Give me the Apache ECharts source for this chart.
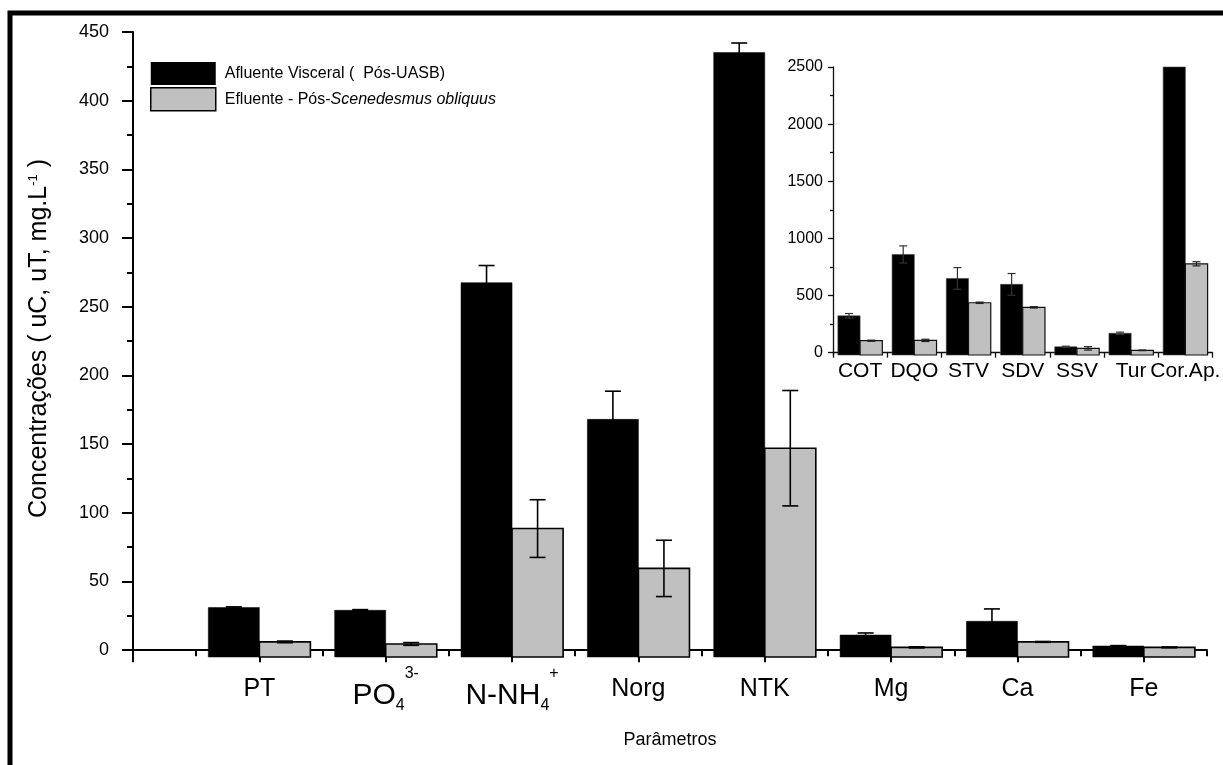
<!DOCTYPE html>
<html>
<head>
<meta charset="utf-8">
<script src="https://cdn.jsdelivr.net/npm/echarts@6/dist/echarts.min.js"></script>
<style>
html,body{margin:0;padding:0;background:#fff;}
#chart{width:1223px;height:765px;}
</style>
</head>
<body>
<div id="chart"></div>
<script>
// ---------- main chart data ----------
const mainCategories = ['PT', 'PO4', 'N-NH4', 'Norg', 'NTK', 'Mg', 'Ca', 'Fe'];
const afluente = [31, 29, 267.5, 168, 435, 11, 21, 3];
const afluenteErr = [0.5, 0.5, 12.5, 20.5, 7, 1.5, 9, 0.3];
const efluente = [6, 4.5, 88.5, 59.5, 147, 2, 6, 2];
const efluenteErr = [0.6, 1, 21, 20.5, 42, 0.4, 0.3, 0.3];
const mainYTicks = [0, 50, 100, 150, 200, 250, 300, 350, 400, 450];
const mainYMinorTicks = [25, 75, 125, 175, 225, 275, 325, 375, 425];

// ---------- inset chart data ----------
const insetCategories = ['COT', 'DQO', 'STV', 'SDV', 'SSV', 'Tur', 'Cor.Ap.'];
const insetAfluente = [323, 860, 650, 598, 52, 170, 2500];
const insetAfluenteErr = [20, 75, 95, 95, 5, 10, 0];
const insetEfluente = [105, 108, 437, 397, 38, 21, 778];
const insetEfluenteErr = [5, 10, 6, 6, 15, 3, 18];
const insetYTicks = [0, 500, 1000, 1500, 2000, 2500];
const insetYMinorTicks = [250, 750, 1250, 1750, 2250];

const seriesNames = ['Afluente Visceral (  Pós-UASB)', 'Efluente - Pós-Scenedesmus obliquus'];

const FONT = 'Liberation Sans, Arial, sans-serif';
const chart = echarts.init(document.getElementById('chart'), null, {renderer: 'canvas'});

function barRenderer(side, fill, stroke, strokeW, rel, capHalf, yMin, errColor, errW) {
  return function (params, api) {
    const x = api.value(0), v = api.value(1), e = api.value(2);
    const top = api.coord([x, v]);
    const base = api.coord([x, yMin]);
    const bw = api.size([1, 0])[0] * rel;
    const x0 = side < 0 ? top[0] - bw : top[0];
    const cx = x0 + bw / 2;
    const eTop = api.coord([x, v + e])[1];
    const eBot = api.coord([x, v - e])[1];
    const children = [{
      type: 'rect',
      shape: {x: x0, y: top[1], width: bw, height: base[1] - top[1]},
      style: {fill: fill, stroke: stroke, lineWidth: strokeW}
    }];
    if (e > 0) {
      const ls = {stroke: errColor, lineWidth: errW};
      children.push({type: 'line', shape: {x1: cx, y1: eTop, x2: cx, y2: eBot}, style: ls});
      children.push({type: 'line', shape: {x1: cx - capHalf, y1: eTop, x2: cx + capHalf, y2: eTop}, style: ls});
      children.push({type: 'line', shape: {x1: cx - capHalf, y1: eBot, x2: cx + capHalf, y2: eBot}, style: ls});
    }
    return {type: 'group', children: children};
  };
}

const labelRich = {
  n: {fontSize: 25, lineHeight: 46, fontFamily: FONT, color: '#000'},
  big: {fontSize: 30, lineHeight: 60, fontFamily: FONT, color: '#000'},
  sub: {fontSize: 16, lineHeight: 16, height: 16, verticalAlign: 'bottom', padding: [0, 0, 12, 0], fontFamily: FONT, color: '#000'},
  sup: {fontSize: 16, lineHeight: 16, height: 16, verticalAlign: 'top', fontFamily: FONT, color: '#000'}
};
function mainLabel(val) {
  const name = mainCategories[Math.round(val) - 1];
  if (name === undefined) return '';
  if (name === 'PO4') return '{big|PO}{sub|4}{sup|3-}';
  if (name === 'N-NH4') return '{big|N-NH}{sub|4}{sup|+}';
  return '{n|' + name + '}';
}

const mainMajorX = [0, 1, 2, 3, 4, 5, 6, 7, 8];
const mainMinorX = [0.5, 1.5, 2.5, 3.5, 4.5, 5.5, 6.5, 7.5, 8.5];
const mainLabelX = [1, 2, 3, 4, 5, 6, 7, 8];

const axisBlack = {show: true, lineStyle: {color: '#000', width: 2}};

const option = {
  animation: false,
  backgroundColor: '#fff',
  graphic: [{
    type: 'rect', silent: true, z: 100,
    shape: {x: 10, y: 13, width: 1400, height: 900},
    style: {fill: 'none', stroke: '#000', lineWidth: 5}
  }],
  legend: {
    orient: 'vertical', left: 150, top: 62, padding: 0,
    itemWidth: 65, itemHeight: 23, itemGap: 2,
    selectedMode: false,
    data: [
      {name: seriesNames[0], icon: 'rect', itemStyle: {color: '#000', borderWidth: 0}},
      {name: seriesNames[1], icon: 'rect', itemStyle: {color: '#c0c0c0', borderColor: '#000', borderWidth: 1.5}}
    ],
    formatter: function (name) {
      if (name === seriesNames[1]) return '{r|Efluente - Pós-}{i|Scenedesmus obliquus}';
      return '{r|' + name + '}';
    },
    textStyle: {
      fontFamily: FONT, fontSize: 16, color: '#000', padding: [0, 0, 0, 4],
      rich: {
        r: {fontFamily: FONT, fontSize: 16, color: '#000'},
        i: {fontFamily: FONT, fontSize: 16, color: '#000', fontStyle: 'italic'}
      }
    }
  },
  grid: [
    {left: 133, top: 32, width: 1074, height: 625},
    {left: 833, top: 67, width: 385, height: 288}
  ],
  xAxis: [
    {
      gridIndex: 0, type: 'value', min: 0, max: 8.5, position: 'bottom',
      axisLine: axisBlack,
      axisTick: {show: true, customValues: mainMajorX, length: 12, inside: false, lineStyle: {color: '#000', width: 2}},
      axisLabel: {show: true, customValues: mainLabelX, margin: 9, formatter: mainLabel, rich: labelRich, color: '#000'},
      splitLine: {show: false},
      name: 'Parâmetros', nameLocation: 'middle', nameGap: 67,
      nameTextStyle: {fontFamily: FONT, fontSize: 18, color: '#000'}
    },
    {
      gridIndex: 0, type: 'value', min: 0, max: 8.5, position: 'bottom',
      axisLine: {show: false},
      axisTick: {show: true, customValues: mainMinorX, length: 6, lineStyle: {color: '#000', width: 2}},
      axisLabel: {show: false},
      splitLine: {show: false}
    },
    {
      gridIndex: 1, type: 'category', data: insetCategories, position: 'bottom',
      boundaryGap: true,
      axisLine: {show: true, lineStyle: {color: '#111', width: 1.3}},
      axisTick: {show: true, length: 5, lineStyle: {color: '#111', width: 1.3}},
      axisLabel: {interval: 0, margin: 6, fontFamily: FONT, fontSize: 21, color: '#000'},
      splitLine: {show: false}
    }
  ],
  yAxis: [
    {
      gridIndex: 0, type: 'value', min: -5, max: 450, position: 'left',
      axisLine: axisBlack,
      axisTick: {show: true, customValues: mainYTicks, length: 11, lineStyle: {color: '#000', width: 2}},
      axisLabel: {show: true, customValues: mainYTicks, margin: 24, fontFamily: FONT, fontSize: 18, color: '#000'},
      splitLine: {show: false},
      name: 'Concentrações ( uC, uT, mg.L{sup|-1} )', nameLocation: 'middle', nameGap: 81,
      nameTextStyle: {
        fontFamily: FONT, fontSize: 25, color: '#000', padding: [0, 0, 0, 12],
        rich: {sup: {fontFamily: FONT, fontSize: 13, color: '#000', verticalAlign: 'top', lineHeight: 13, height: 13}}
      }
    },
    {
      gridIndex: 0, type: 'value', min: -5, max: 450, position: 'left',
      axisLine: {show: false},
      axisTick: {show: true, customValues: mainYMinorTicks, length: 6, lineStyle: {color: '#000', width: 2}},
      axisLabel: {show: false},
      splitLine: {show: false}
    },
    {
      gridIndex: 1, type: 'value', min: -20, max: 2500, position: 'left',
      axisLine: {show: true, lineStyle: {color: '#111', width: 1.3}},
      axisTick: {show: true, customValues: insetYTicks, length: 5, lineStyle: {color: '#111', width: 1.3}},
      axisLabel: {show: true, customValues: insetYTicks, margin: 10, fontFamily: FONT, fontSize: 16, color: '#000',
        formatter: function (v) { return String(v); }},
      splitLine: {show: false}
    },
    {
      gridIndex: 1, type: 'value', min: -20, max: 2500, position: 'left',
      axisLine: {show: false},
      axisTick: {show: true, customValues: insetYMinorTicks, length: 3, lineStyle: {color: '#111', width: 1.3}},
      axisLabel: {show: false},
      splitLine: {show: false}
    }
  ],
  series: [
    {
      name: seriesNames[0], type: 'custom', xAxisIndex: 0, yAxisIndex: 0,
      itemStyle: {color: '#000'},
      renderItem: barRenderer(-1, '#000', '#000', 0.5, 0.404, 8, -5, '#000', 1.6),
      data: afluente.map((v, i) => [i + 1, v, afluenteErr[i]]),
      z: 3
    },
    {
      name: seriesNames[1], type: 'custom', xAxisIndex: 0, yAxisIndex: 0,
      itemStyle: {color: '#c0c0c0'},
      renderItem: barRenderer(1, '#c0c0c0', '#000', 1.6, 0.404, 8, -5, '#000', 1.6),
      data: efluente.map((v, i) => [i + 1, v, efluenteErr[i]]),
      z: 3
    },
    {
      name: seriesNames[0], type: 'custom', xAxisIndex: 2, yAxisIndex: 2,
      itemStyle: {color: '#000'},
      renderItem: barRenderer(-1, '#000', '#444', 0.6, 0.41, 4, -20, '#333', 1.2),
      data: insetAfluente.map((v, i) => [i, v, insetAfluenteErr[i]]),
      z: 4
    },
    {
      name: seriesNames[1], type: 'custom', xAxisIndex: 2, yAxisIndex: 2,
      itemStyle: {color: '#c0c0c0'},
      renderItem: barRenderer(1, '#c0c0c0', '#111', 1.2, 0.41, 4, -20, '#222', 1.2),
      data: insetEfluente.map((v, i) => [i, v, insetEfluenteErr[i]]),
      z: 4
    }
  ]
};
chart.setOption(option);
</script>
</body>
</html>
